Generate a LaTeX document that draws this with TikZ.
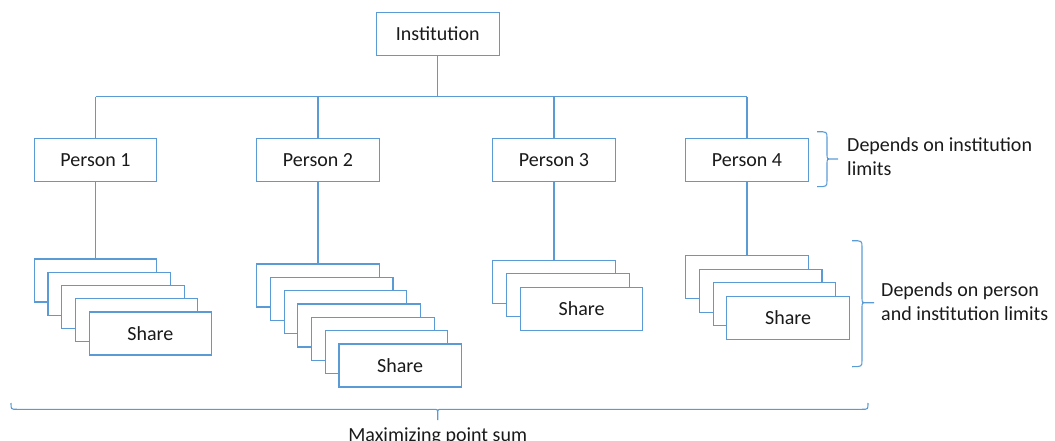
\documentclass[tikz,border=0pt]{standalone}
\usepackage{fontspec}
\setmainfont{Carlito}
\definecolor{ln}{HTML}{5B9BD5}
\definecolor{txt}{HTML}{1A1A1A}
\begin{document}
\begin{tikzpicture}[x=1pt,y=-1pt,
  box/.style={draw=ln, line width=1.1pt, fill=white, minimum width=122.5pt, minimum height=43pt, inner sep=0pt, font=\fontsize{20}{24}\selectfont, text=txt},
  conn/.style={draw=ln, line width=1.1pt},
  lbl/.style={inner sep=0pt, font=\fontsize{20}{23.5}\selectfont, text=txt}]
\useasboundingbox (0,0) rectangle (1055,441);
% top level
\node[box] (inst) at (437.8,33.8) {Institution};
\node[box] (p1) at (95.5,160) {Person 1};
\node[box] (p2) at (318,160) {Person 2};
\node[box] (p3) at (554,160) {Person 3};
\node[box] (p4) at (747,160) {Person 4};
% tree connectors
\coordinate (bar) at (0,96.7);
\draw[conn] (inst.south) -- (inst.south |- bar);
\draw[conn] (p1.north |- bar) -- (p4.north |- bar);
\foreach \p in {1,...,4} \draw[conn] (p\p.north |- bar) -- (p\p.north);
% stacks of shares
\foreach \i in {0,...,3} \node[box] (s1-\i) at ({95.5+13.7*\i},{280.5+13.25*\i}) {};
\node[box] (s1-4) at (150.3,333.5) {Share};
\foreach \i in {0,...,5} \node[box] (s2-\i) at ({318+13.7*\i},{285.5+13.33*\i}) {};
\node[box] (s2-6) at (400.2,365.5) {Share};
\foreach \i in {0,...,1} \node[box] (s3-\i) at ({554+13.8*\i},{282.2+13.2*\i}) {};
\node[box] (s3-2) at (581.6,308.6) {Share};
\foreach \i in {0,...,2} \node[box] (s4-\i) at ({747+13.7*\i},{277.2+13.5*\i}) {};
\node[box] (s4-3) at (788.1,317.7) {Share};
\draw[conn] (p1.south) -- (s1-0.north);
\draw[conn] (p2.south) -- (s2-0.north);
\draw[conn] (p3.south) -- (s3-0.north);
\draw[conn] (p4.south) -- (s4-0.north);
% braces
\draw[conn] (817,131.7) .. controls (827,131.7) .. (827,138) -- (827,154) .. controls (827,159) .. (832,159) -- (838,159)
  (832,159) .. controls (827,159) .. (827,164) -- (827,180) .. controls (827,186.7) .. (817,186.7);
\draw[conn] (852,240.7) .. controls (862,240.7) .. (862,247) -- (862,297.7) .. controls (862,302.7) .. (867,302.7) -- (874,302.7)
  (867,302.7) .. controls (862,302.7) .. (862,307.7) -- (862,360) .. controls (862,366.7) .. (852,366.7);
\draw[conn] (11,403) .. controls (11,409.3) .. (17,409.3) -- (433,409.3) .. controls (437.7,409.3) .. (437.7,414) -- (437.7,420)
  (437.7,414) .. controls (437.7,409.3) .. (442.4,409.3) -- (862,409.3) .. controls (868,409.3) .. (868,403);
% labels
\node[lbl, anchor=west, align=left] (t1) at (847,156.5) {Depends on institution\\limits};
\node[lbl, anchor=west, align=left] (t2) at (881,301.4) {Depends on person\\and institution limits};
\node[lbl, anchor=base] (t3) at (437.7,441) {Maximizing point sum};
\end{tikzpicture}
\end{document}
